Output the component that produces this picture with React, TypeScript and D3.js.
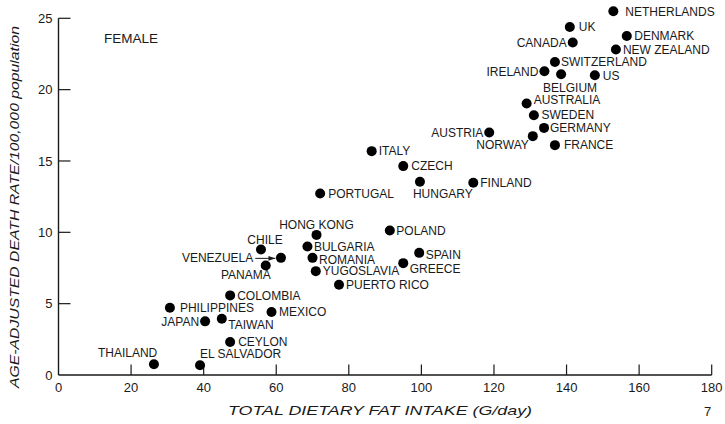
import React from "react";
import * as d3 from "d3";

const countries = [
  "NETHERLANDS", "UK", "CANADA", "DENMARK", "NEW ZEALAND", "SWITZERLAND", "IRELAND", "BELGIUM", "US",
  "AUSTRALIA", "SWEDEN", "GERMANY", "NORWAY", "AUSTRIA", "FRANCE", "ITALY", "CZECH", "HUNGARY",
  "FINLAND", "PORTUGAL", "HONG KONG", "CHILE", "VENEZUELA", "PANAMA", "BULGARIA", "ROMANIA",
  "YUGOSLAVIA", "PUERTO RICO", "COLOMBIA", "PHILIPPINES", "MEXICO", "JAPAN", "TAIWAN", "CEYLON",
  "THAILAND", "EL SALVADOR", "POLAND", "SPAIN", "GREECE",
];
const fatIntake = [
  152.9, 140.9, 141.7, 156.6, 153.6, 136.8, 133.9, 138.5, 147.8,
  129.0, 131.0, 133.8, 130.7, 118.7, 136.8, 86.3, 95.0, 99.6,
  114.3, 72.1, 71.1, 55.8, 61.3, 57.1, 68.6, 70.0,
  70.9, 77.3, 47.3, 30.7, 58.7, 40.4, 45.0, 47.3,
  26.3, 39.0, 91.3, 99.4, 95.0,
];
const deathRate = [
  25.49, 24.39, 23.3, 23.76, 22.81, 21.94, 21.29, 21.08, 21.01,
  19.03, 18.21, 17.32, 16.74, 17.0, 16.11, 15.69, 14.64, 13.54,
  13.47, 12.72, 9.82, 8.8, 8.21, 7.68, 9.01, 8.21,
  7.28, 6.32, 5.58, 4.71, 4.41, 3.76, 3.94, 2.31,
  0.75, 0.68, 10.13, 8.56, 7.84,
];
const xTicks = [0, 20, 40, 60, 80, 100, 120, 140, 160, 180];
const yTicks = [0, 5, 10, 15, 20, 25];

// label placement: [dx, dy, anchor] relative to the dot (layout only)
const labelLayout: Record<string, [number, number, string]> = {
  NETHERLANDS: [12, 4.5, "start"],
  UK: [9, 4.3, "start"],
  CANADA: [-6, 4.3, "end"],
  DENMARK: [7.5, 4.3, "start"],
  "NEW ZEALAND": [7, 4.3, "start"],
  SWITZERLAND: [6, 4.3, "start"],
  IRELAND: [-6, 4.3, "end"],
  BELGIUM: [9, 17.7, "middle"],
  US: [8, 4.3, "start"],
  AUSTRALIA: [7, 1, "start"],
  SWEDEN: [7.5, 4.3, "start"],
  GERMANY: [6, 4.3, "start"],
  NORWAY: [-4, 13, "end"],
  AUSTRIA: [-6, 4.3, "end"],
  FRANCE: [9, 4.3, "start"],
  ITALY: [7, 4.3, "start"],
  CZECH: [8, 4.3, "start"],
  HUNGARY: [-7, 15.7, "start"],
  FINLAND: [7, 4.3, "start"],
  PORTUGAL: [8, 4.3, "start"],
  "HONG KONG": [0, -6, "middle"],
  CHILE: [4, -5.6, "middle"],
  VENEZUELA: [-27.7, 4.3, "end"],
  PANAMA: [5, 13.4, "end"],
  BULGARIA: [6.5, 4.3, "start"],
  ROMANIA: [6.5, 6, "start"],
  YUGOSLAVIA: [7, 4.3, "start"],
  "PUERTO RICO": [7, 4.3, "start"],
  COLOMBIA: [7, 4.3, "start"],
  PHILIPPINES: [10, 4.3, "start"],
  MEXICO: [7.5, 4.3, "start"],
  JAPAN: [-6, 4.3, "end"],
  TAIWAN: [6.5, 10, "start"],
  CEYLON: [8, 4.3, "start"],
  THAILAND: [3.3, -7.3, "end"],
  "EL SALVADOR": [0, -7, "start"],
  POLAND: [6.5, 4.3, "start"],
  SPAIN: [6.5, 6, "start"],
  GREECE: [6.5, 9.7, "start"],
};

const W = 725;
const H = 424;
const FONT = "'Liberation Sans', Arial, Helvetica, sans-serif";
const INK = "#1a1a1a";

export default function App() {
  const x = d3.scaleLinear().domain([0, 180]).range([58.5, 711.7]);
  const y = d3.scaleLinear().domain([0, 25]).range([375, 18.3]);
  const r = 5;

  return (
    <svg
      width={W}
      height={H}
      viewBox={`0 0 ${W} ${H}`}
      style={{ position: "absolute", left: 0, top: 0, background: "#fff" }}
    >
      <rect x={0} y={0} width={W} height={H} fill="#fff" />
      <defs>
        <marker id="arr" viewBox="0 0 10 10" refX="10" refY="5" markerWidth="7" markerHeight="7" orient="auto" markerUnits="userSpaceOnUse">
          <path d="M0,1.5 L10,5 L0,8.5 Z" fill={INK} />
        </marker>
      </defs>
      {/* axes */}
      <line x1={x(0)} x2={x(0)} y1={y(0)} y2={y(25)} stroke={INK} strokeWidth={1.4} />
      <line x1={x(0)} x2={x(180)} y1={y(0)} y2={y(0)} stroke={INK} strokeWidth={1.4} />
      {yTicks.filter((t) => t > 0).map((t) => (
        <line key={"yt" + t} x1={x(0)} x2={x(0) + 12} y1={y(t)} y2={y(t)} stroke={INK} strokeWidth={1.2} />
      ))}
      {xTicks.filter((t) => t > 0).map((t) => (
        <line key={"xt" + t} x1={x(t)} x2={x(t)} y1={y(0)} y2={y(0) - 10.5} stroke={INK} strokeWidth={1.2} />
      ))}
      {yTicks.map((t) => (
        <text key={"yl" + t} x={x(0) - 6} y={y(t) + 4.6} textAnchor="end" fontFamily={FONT} fontSize={13} fill={INK}>
          {t}
        </text>
      ))}
      {xTicks.map((t) => (
        <text key={"xl" + t} x={x(t)} y={392} textAnchor="middle" fontFamily={FONT} fontSize={13} fill={INK}>
          {t}
        </text>
      ))}
      {/* axis titles */}
      <text x={380} y={415} textAnchor="middle" fontFamily={FONT} fontSize={13.5} fontStyle="italic" fill={INK} textLength={304} lengthAdjust="spacingAndGlyphs">
        TOTAL DIETARY FAT INTAKE (G/day)
      </text>
      <text
        transform="translate(19,207) rotate(-90)"
        textAnchor="middle"
        fontFamily={FONT}
        fontSize={13.5}
        fontStyle="italic"
        fill={INK}
        textLength={362}
        lengthAdjust="spacingAndGlyphs"
      >
        AGE-ADJUSTED DEATH RATE/100,000 population
      </text>
      <text x={104} y={43.3} fontFamily={FONT} fontSize={13.5} fill={INK}>
        FEMALE
      </text>
      <text x={707.5} y={416} textAnchor="middle" fontFamily={FONT} fontSize={13} fill={INK}>
        7
      </text>
      {/* points */}
      {countries.map((c, i) => {
        const cx = x(fatIntake[i]);
        const cy = y(deathRate[i]);
        const [dx, dy, anchor] = labelLayout[c];
        return (
          <g key={c}>
            <circle cx={cx} cy={cy} r={r} fill="#000" />
            <text x={cx + dx} y={cy + dy} textAnchor={anchor as any} fontFamily={FONT} fontSize={12} fill={INK}>
              {c}
            </text>
            {c === "VENEZUELA" && (
              <line x1={cx + dx + 2} x2={cx - r - 0.5} y1={cy + 0.5} y2={cy + 0.5} stroke={INK} strokeWidth={1} markerEnd="url(#arr)" />
            )}
          </g>
        );
      })}
    </svg>
  );
}
